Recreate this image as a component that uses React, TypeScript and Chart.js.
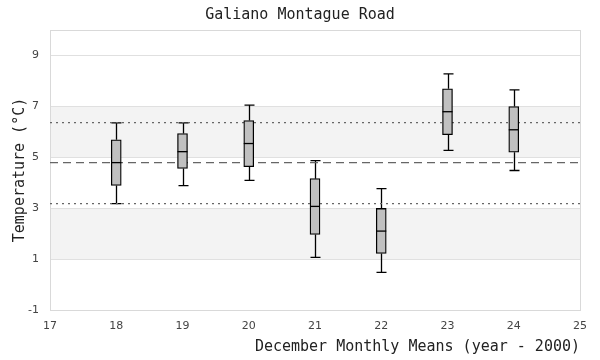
import React, { useEffect, useRef } from "react";
import { Chart, registerables } from "chart.js";

Chart.register(...registerables);

const years = [18, 19, 20, 21, 22, 23, 24];
const mins = [3.18, 3.89, 4.09, 1.07, 0.48, 5.27, 4.48];
const q1s = [3.89, 4.56, 4.63, 1.97, 1.22, 5.89, 5.2];
const medians = [4.79, 5.22, 5.54, 3.07, 2.1, 6.79, 6.08];
const q3s = [5.69, 5.93, 6.44, 4.16, 2.99, 7.69, 6.99];
const maxs = [6.35, 6.35, 7.05, 4.87, 3.77, 8.28, 7.65];

const meanLine = 4.79;
const upperLine = 6.36;
const lowerLine = 3.18;

const xRange = [17, 25];
const yRange = [-1, 10];
const yTicks = [-1, 1, 3, 5, 7, 9];
const bandRanges: [number, number][] = [
  [1, 3],
  [5, 7],
];

const chartTitle = "Galiano Montague Road";

const MONO = "'DejaVu Sans Mono', monospace";
const SANS = "'DejaVu Sans', sans-serif";

const boxPlugin = {
  id: "boxExtras",
  beforeDraw(chart: any) {
    const { ctx, chartArea, scales } = chart;
    const y = scales.y;
    ctx.save();
    ctx.fillStyle = "#f3f3f3";
    for (const [a, b] of bandRanges) {
      const top = y.getPixelForValue(b);
      const bot = y.getPixelForValue(a);
      ctx.fillRect(chartArea.left, top, chartArea.right - chartArea.left, bot - top);
    }
    ctx.restore();
  },
  beforeDatasetsDraw(chart: any) {
    const { ctx, chartArea } = chart;
    ctx.save();
    ctx.strokeStyle = "#d9d9d9";
    ctx.lineWidth = 1;
    ctx.strokeRect(
      Math.round(chartArea.left) + 0.5,
      Math.round(chartArea.top) + 0.5,
      Math.round(chartArea.right - chartArea.left),
      Math.round(chartArea.bottom - chartArea.top)
    );
    const x = chart.scales.x;
    const y = chart.scales.y;
    ctx.strokeStyle = "#000";
    ctx.lineWidth = 1.3;
    const cap = 5;
    years.forEach((yr, i) => {
      const px = Math.round(x.getPixelForValue(yr)) + 0.5;
      const pMin = y.getPixelForValue(mins[i]);
      const pMax = y.getPixelForValue(maxs[i]);
      const pQ1 = y.getPixelForValue(q1s[i]);
      const pQ3 = y.getPixelForValue(q3s[i]);
      ctx.beginPath();
      ctx.moveTo(px, pMax);
      ctx.lineTo(px, pQ3);
      ctx.moveTo(px, pQ1);
      ctx.lineTo(px, pMin);
      ctx.moveTo(px - cap, pMax);
      ctx.lineTo(px + cap, pMax);
      ctx.moveTo(px - cap, pMin);
      ctx.lineTo(px + cap, pMin);
      ctx.stroke();
    });
    ctx.restore();
  },
  afterDatasetsDraw(chart: any) {
    const { ctx } = chart;
    const x = chart.scales.x;
    const y = chart.scales.y;
    ctx.save();
    ctx.strokeStyle = "#000";
    ctx.lineWidth = 1.3;
    years.forEach((yr, i) => {
      const px = x.getPixelForValue(yr);
      const pm = y.getPixelForValue(medians[i]);
      ctx.beginPath();
      ctx.moveTo(px - 5, pm);
      ctx.lineTo(px + 5, pm);
      ctx.stroke();
    });
    ctx.restore();
  },
  afterDraw(chart: any) {
    const { ctx } = chart;
    ctx.save();
    ctx.font = `normal 15px ${MONO}`;
    ctx.fillStyle = "#222";
    ctx.textAlign = "center";
    ctx.textBaseline = "middle";
    ctx.fillText(chartTitle, chart.width / 2, 15);
    ctx.restore();
  },
};

export default function App() {
  const ref = useRef<HTMLCanvasElement | null>(null);
  useEffect(() => {
    if (!ref.current) return;
    const lineData = (v: number) => [
      { x: xRange[0], y: v },
      { x: xRange[1], y: v },
    ];
    const chart = new Chart(ref.current, {
      type: "bar",
      data: {
        datasets: [
          {
            type: "bar",
            data: years.map((yr, i) => ({ x: yr, y: [q1s[i], q3s[i]] })) as any,
            backgroundColor: "#c0c0c0",
            borderColor: "#000",
            borderWidth: 1.3,
            borderSkipped: false,
            barThickness: 10,
            order: 0,
          } as any,
          {
            type: "line",
            data: lineData(meanLine),
            borderColor: "#666",
            borderWidth: 1.3,
            borderDash: [8, 5],
            pointRadius: 0,
            order: 1,
          } as any,
          {
            type: "line",
            data: lineData(upperLine),
            borderColor: "#666",
            borderWidth: 1.3,
            borderDash: [2, 4],
            pointRadius: 0,
            order: 1,
          } as any,
          {
            type: "line",
            data: lineData(lowerLine),
            borderColor: "#666",
            borderWidth: 1.3,
            borderDash: [2, 4],
            pointRadius: 0,
            order: 1,
          } as any,
        ],
      },
      options: {
        animation: false,
        responsive: false,
        layout: { padding: { top: 30, right: 20, bottom: 0, left: 0 } },
        plugins: {
          legend: { display: false },
          tooltip: { enabled: false },
          title: { display: false },
        },
        scales: {
          x: {
            type: "linear",
            min: xRange[0],
            max: xRange[1],
            offset: false,
            grid: { display: false, drawTicks: false },
            border: { display: false },
            ticks: {
              stepSize: 1,
              padding: 10,
              color: "#444",
              font: { family: SANS, size: 11 },
            },
            title: {
              display: true,
              text: "December Monthly Means (year - 2000)",
              align: "end",
              color: "#222",
              font: { family: MONO, size: 15, weight: "normal" },
              padding: { top: 0, bottom: 4 },
            },
            afterFit(scale: any) {
              scale.height = 50;
            },
          } as any,
          y: {
            type: "linear",
            min: yRange[0],
            max: yRange[1],
            grid: { color: "#e0e0e0", drawTicks: false },
            border: { display: false },
            afterBuildTicks(scale: any) {
              scale.ticks = yTicks.map((v) => ({ value: v }));
            },
            ticks: {
              padding: 11,
              color: "#444",
              font: { family: SANS, size: 11 },
            },
            title: {
              display: true,
              text: "Temperature (°C)",
              color: "#222",
              font: { family: MONO, size: 15, weight: "normal" },
              padding: { top: 11, bottom: 0 },
            },
            afterFit(scale: any) {
              scale.width = 50;
            },
          } as any,
        },
      },
      plugins: [boxPlugin],
    });
    return () => chart.destroy();
  }, []);
  return (
    <div style={{ position: "fixed", left: 0, top: 0, width: 600, height: 360, background: "#fff" }}>
      <canvas ref={ref} width={600} height={360} style={{ width: 600, height: 360 }} />
    </div>
  );
}
